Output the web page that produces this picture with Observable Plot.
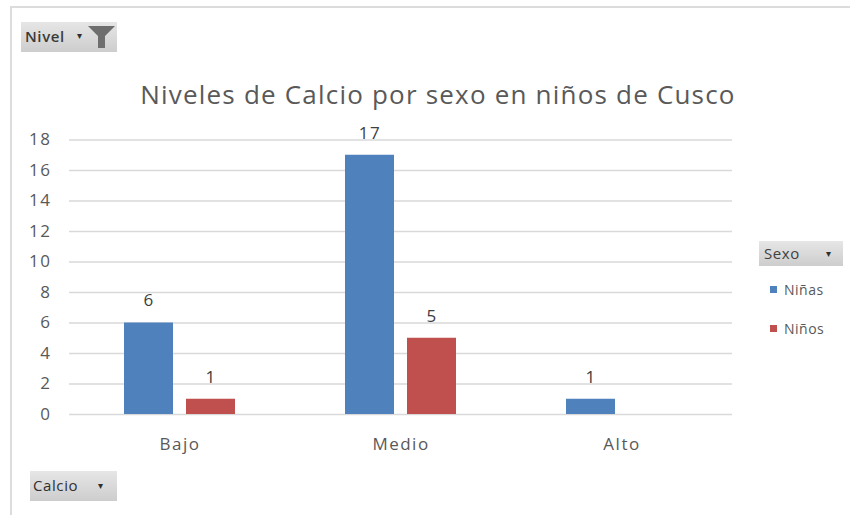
<!DOCTYPE html>
<html>
<head>
<meta charset="utf-8">
<script src="https://cdn.jsdelivr.net/npm/d3@7"></script>
<script src="https://cdn.jsdelivr.net/npm/@observablehq/plot@0.6"></script>
<style>
  html, body { margin: 0; padding: 0; background: #fff; }
  #wrap { position: relative; width: 850px; height: 515px; overflow: hidden; font-family: "Open Sans", sans-serif; background: #fff; }
  #frame { position: absolute; left: 10px; top: 6px; width: 860px; height: 520px; border: 2px solid #dcdcdc; box-sizing: border-box; }
  .btn { position: absolute; background: linear-gradient(#e6e6e6, #cdcdcd); color: #303030; font-size: 15px; line-height: 1; box-sizing: border-box; letter-spacing: 0.6px; }
  #title { position: absolute; left: 0; width: 876px; top: 76px; text-align: center; font-size: 26px; letter-spacing: 1.2px; color: #595959; white-space: nowrap; }
  #chart { position: absolute; left: 0; top: 120px; }
  #chart text { letter-spacing: 1.5px; }
  .leg { position: absolute; font-size: 14px; color: #595959; letter-spacing: 0.5px; }
  .sw { display: inline-block; width: 7px; height: 7px; margin-right: 7px; vertical-align: 2px; }
</style>
</head>
<body>
<div id="wrap">
  <div id="frame"></div>
  <div class="btn" id="nivelBtn" style="left:21px;top:22px;width:96px;height:30px;">
    <span style="position:absolute;left:4px;top:7px;font-weight:600;color:#3a3a3a;">Nivel</span>
    <span style="position:absolute;left:56px;top:8px;font-size:10px;">&#9662;</span>
    <svg style="position:absolute;left:66px;top:3px;" width="29" height="24" viewBox="0 0 29 24"><path d="M1,1 L28,1 L18,11 L18,23 L11,23 L11,11 Z" fill="#6e6e6e"/></svg>
  </div>
  <div id="title">Niveles de Calcio por sexo en niños de Cusco</div>
  <div id="chart"></div>
  <div class="btn" id="sexoBtn" style="left:759px;top:241px;width:84px;height:25px;">
    <span style="position:absolute;left:5px;top:5px;color:#404040;">Sexo</span>
    <span style="position:absolute;left:67px;top:7px;font-size:10px;">&#9662;</span>
  </div>
  <div id="legend"></div>
  <div class="btn" id="calcioBtn" style="left:30px;top:471px;width:87px;height:30px;">
    <span style="position:absolute;left:3px;top:7px;">Calcio</span>
    <span style="position:absolute;left:68px;top:9px;font-size:10px;">&#9662;</span>
  </div>
</div>
<script>
const categories = ["Bajo", "Medio", "Alto"];
const series = ["Niñas", "Niños"];
const ninas = [6, 17, 1];
const ninos = [1, 5, null];
const yTicks = [0, 2, 4, 6, 8, 10, 12, 14, 16, 18];
const colors = ["#4F81BD", "#C0504D"];

const data = [];
categories.forEach((c, i) => {
  if (ninas[i] != null) data.push({nivel: c, sexo: series[0], value: ninas[i]});
  if (ninos[i] != null) data.push({nivel: c, sexo: series[1], value: ninos[i]});
});

const chart = Plot.plot({
  width: 850,
  height: 345,
  marginLeft: 68,
  marginRight: 118,
  marginTop: 19.5,
  marginBottom: 51,
  style: {fontFamily: "'Open Sans', sans-serif", color: "#595959", background: "transparent"},
  fx: {domain: categories, padding: 0, label: null},
  x: {domain: series, paddingInner: 0.21, paddingOuter: 0.887, axis: null},
  y: {domain: [0, 18], label: null},
  color: {domain: series, range: colors},
  marks: [
    Plot.gridY(yTicks, {stroke: "#d9d9d9", strokeOpacity: 1, strokeWidth: 1.3}),
    Plot.barY(data, {fx: "nivel", x: "sexo", y: "value", fill: "sexo"}),
    Plot.text(data, {fx: "nivel", x: "sexo", y: "value", text: d => String(d.value), dy: -22, fontSize: 17, fill: "#404040"}),
    Plot.axisY(yTicks, {tickSize: 0, tickPadding: 18, fontSize: 17, label: null}),
    Plot.axisFx({anchor: "bottom", tickSize: 0, tickPadding: 23, fontSize: 17, label: null})
  ]
});
document.getElementById("chart").appendChild(chart);

const legend = document.getElementById("legend");
series.forEach((s, i) => {
  const el = document.createElement("div");
  el.className = "leg";
  el.style.left = "770px";
  el.style.top = (280 + i * 39) + "px";
  el.innerHTML = `<span class="sw" style="background:${colors[i]}"></span>${s}`;
  legend.appendChild(el);
});
</script>
</body>
</html>
